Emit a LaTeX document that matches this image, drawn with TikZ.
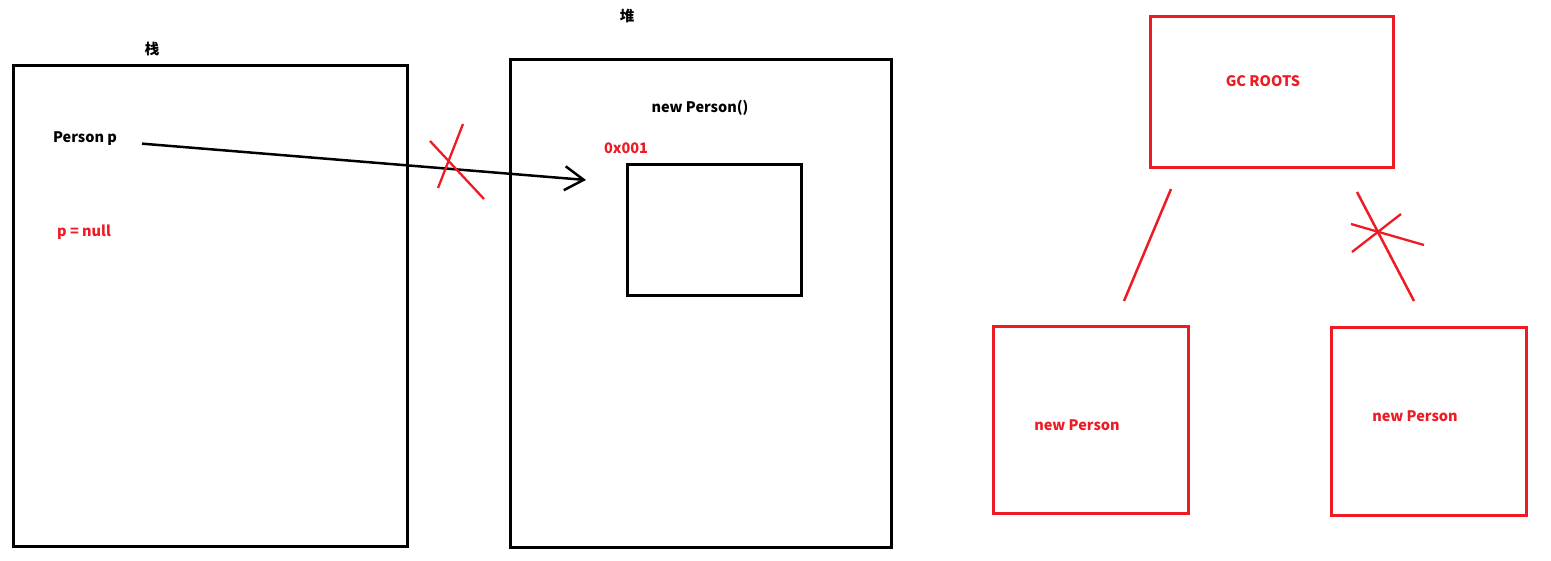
\documentclass[tikz,border=0pt]{standalone}
\usepackage{fontspec}
\setmainfont{Noto Sans CJK SC}
\usetikzlibrary{arrows.meta}
\definecolor{paintred}{RGB}{237,28,36}

\begin{document}
\begin{tikzpicture}[x=1pt,y=-1pt,
    box/.style={draw,line width=3pt,inner sep=0pt,outer sep=0pt},
    redbox/.style={box,draw=paintred},
    lbl/.style={font=\bfseries\fontsize{14.5}{17}\selectfont,inner sep=0pt},
    redlbl/.style={lbl,text=paintred},
    strike/.style={paintred,line width=2.3pt}]
  \useasboundingbox (0,0) rectangle (1551,561);

  % stack
  \node[box,minimum width=394pt,minimum height=480pt] (stack) at (210,306) {};
  \node[lbl] (stacklbl) at (152,49) {栈};
  \node[lbl] (person) at (85,139) {Person p};
  \node[redlbl] (nullp) at (84,232) {p = null};

  % heap
  \node[box,minimum width=381pt,minimum height=487pt] (heap) at (700.5,303.5) {};
  \node[lbl] (heaplbl) at (627,16) {堆};
  \node[lbl] (newobj) at (700,108) {new Person()};
  \node[redlbl] (addr) at (626,148) {0x001};
  \node[box,minimum width=174pt,minimum height=131pt] (obj) at (714,230.5) {};

  % reference p -> object
  \coordinate (tip) at (586,180);
  \draw[line width=2.5pt,shorten <=25pt,
        -{Straight Barb[length=19pt,width=24pt]}] (person) -- (tip);
  \draw[strike] (430,141) -- (484,199);
  \draw[strike] (463,124) -- (438,188);

  % gc roots
  \node[redbox,minimum width=243pt,minimum height=151pt] (gc) at (1271.5,92.5) {};
  \node[redlbl] (gclbl) at (1263,81) {GC ROOTS};
  \node[redbox,minimum width=195pt,minimum height=186pt] (np1) at (1090.5,420) {};
  \node[redlbl] (np1lbl) at (1077,425) {new Person};
  \node[redbox,minimum width=195pt,minimum height=187pt] (np2) at (1428.5,421.5) {};
  \node[redlbl] (np2lbl) at (1415,416) {new Person};

  \coordinate (gcl) at (1171,189);
  \coordinate (np1t) at (1124,301);
  \coordinate (gcr) at (1357,192);
  \coordinate (np2t) at (1414,301);
  \draw[paintred,line width=2.5pt] (gcl) -- (np1t);
  \draw[paintred,line width=2.5pt] (gcr) -- (np2t);
  \draw[strike] (1351,224) -- (1424,245);
  \draw[strike] (1352,252) -- (1401,214);
\end{tikzpicture}
\end{document}
